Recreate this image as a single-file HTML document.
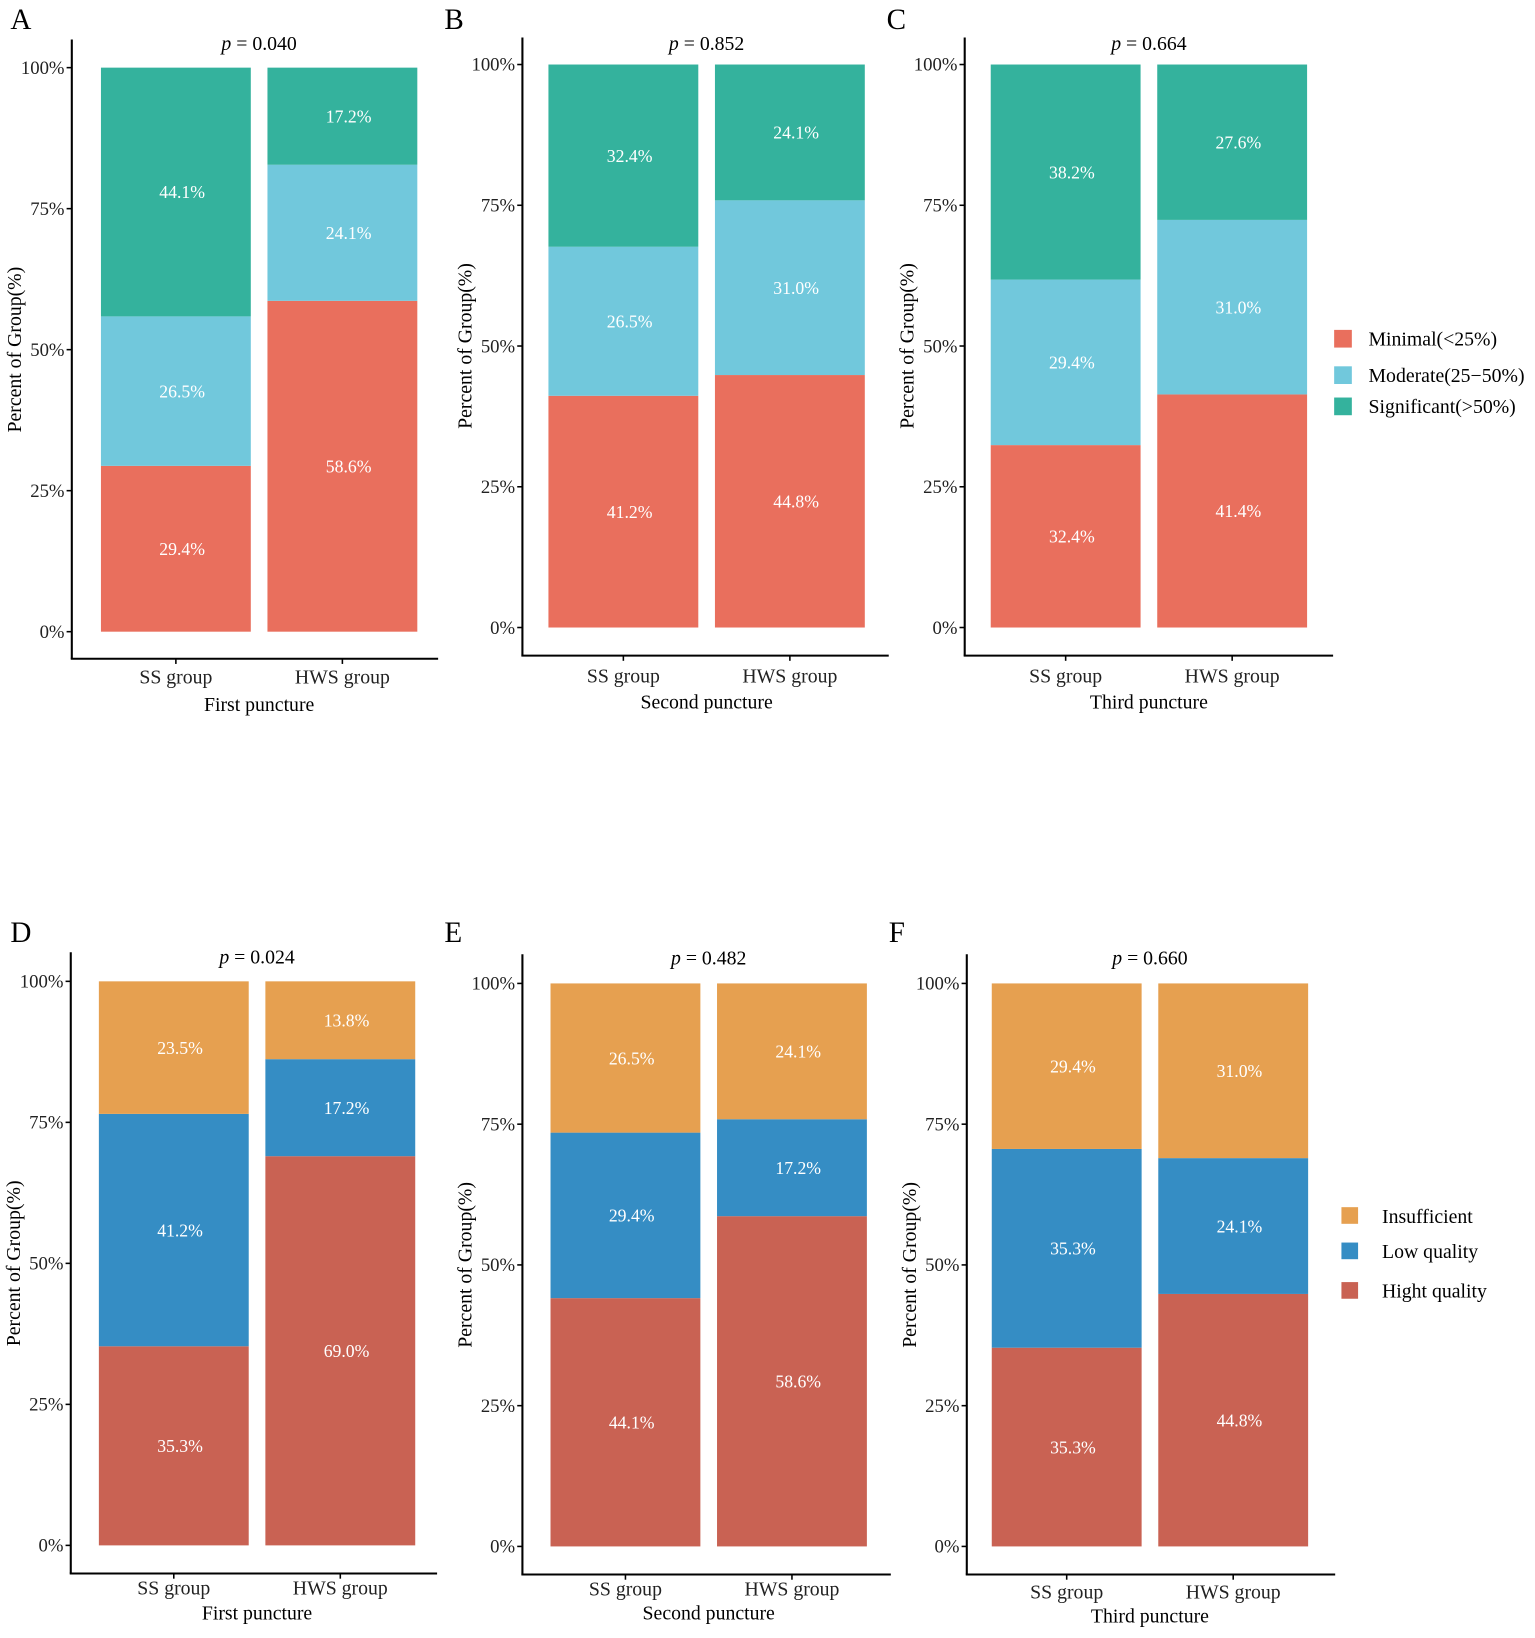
<!DOCTYPE html>
<html><head><meta charset="utf-8">
<style>
html,body{margin:0;padding:0;background:#fff;}
svg{display:block;font-family:"Liberation Serif",serif;}
</style></head>
<body>
<svg id="fig" width="1535" height="1638" viewBox="0 0 1475 1574" preserveAspectRatio="none"></svg>
<script>
const groups = ["SS group", "HWS group"];
const seriesTop = ["Minimal(<25%)", "Moderate(25\u221250%)", "Significant(>50%)"];
const seriesBottom = ["Hight quality", "Low quality", "Insufficient"];
const legendBottomOrder = ["Insufficient", "Low quality", "Hight quality"];
const tickLabels = ["0%", "25%", "50%", "75%", "100%"];
const tickValues = [0, 25, 50, 75, 100];
const aSS = [29.4, 26.5, 44.1], aHWS = [58.6, 24.1, 17.2];
const bSS = [41.2, 26.5, 32.4], bHWS = [44.8, 31.0, 24.1];
const cSS = [32.4, 29.4, 38.2], cHWS = [41.4, 31.0, 27.6];
const dSS = [35.3, 41.2, 23.5], dHWS = [69.0, 17.2, 13.8];
const eSS = [44.1, 29.4, 26.5], eHWS = [58.6, 17.2, 24.1];
const fSS = [35.3, 35.3, 29.4], fHWS = [44.8, 24.1, 31.0];
const pValues = ["0.040", "0.852", "0.664", "0.024", "0.482", "0.660"];
const xTitles = ["First puncture", "Second puncture", "Third puncture", "First puncture", "Second puncture", "Third puncture"];

const topColors = ["#E96F5D", "#71C8DC", "#34B29D"];
const botColors = ["#C96253", "#358DC4", "#E6A050"];
const NS = "http://www.w3.org/2000/svg";
const svg = document.getElementById("fig");
function mk(tag, attrs, parent, text) {
  const e = document.createElementNS(NS, tag);
  for (const k in attrs) e.setAttribute(k, attrs[k]);
  if (text !== undefined) e.textContent = text;
  (parent || svg).appendChild(e);
  return e;
}
const panels = [
  {letter:"A", ax:69, y100:65, y0:607, axTop:38, axBot:633, axRight:421, bars:[97,257], data:[aSS,aHWS], colors:topColors, names:seriesTop, pY:48, letY:28, xlY:657, xtY:683},
  {letter:"B", ax:502, y100:62, y0:603, axTop:36, axBot:630, axRight:854, bars:[527,687], data:[bSS,bHWS], colors:topColors, names:seriesTop, pY:48, letY:28, xlY:656, xtY:681},
  {letter:"C", ax:927, y100:62, y0:603, axTop:36, axBot:630, axRight:1281, bars:[952,1112], data:[cSS,cHWS], colors:topColors, names:seriesTop, pY:48, letY:28, xlY:656, xtY:681},
  {letter:"D", ax:68, y100:943, y0:1485, axTop:915, axBot:1512, axRight:420, bars:[95,255], data:[dSS,dHWS], colors:botColors, names:seriesBottom, pY:926, letY:905, xlY:1532, xtY:1556},
  {letter:"E", ax:502, y100:945, y0:1486, axTop:917, axBot:1513, axRight:856, bars:[529,689], data:[eSS,eHWS], colors:botColors, names:seriesBottom, pY:927, letY:905, xlY:1533, xtY:1556},
  {letter:"F", ax:929, y100:945, y0:1486, axTop:917, axBot:1513, axRight:1283, bars:[953,1113], data:[fSS,fHWS], colors:botColors, names:seriesBottom, pY:927, letY:905, xlY:1536, xtY:1559}
];
const barW = 144;
panels.forEach((p, i) => {
  const g = mk("g", {});
  
  
  const yScale = v => p.y0 - (p.y0 - p.y100) * v / 100;
  p.data.forEach((vals, gi) => {
    const total = vals.reduce((a, b) => a + b, 0);
    let cum = 0;
    vals.forEach((v, si) => {
      const pct0 = cum / total * 100, pct1 = (cum + v) / total * 100;
      cum += v;
      const yTop = yScale(pct1), yBot = yScale(pct0);
      const r = mk("rect", {x:p.bars[gi], y:yTop, width:barW, height:yBot - yTop, fill:p.colors[si]}, g);
      
      
      const t = mk("text", {x:p.bars[gi] + barW / 2 + 6, y:(yTop + yBot) / 2 + 6, "text-anchor":"middle", fill:"#fff", "font-size":"17"}, g, v.toFixed(1) + "%");
      
      
    });
  });
  const yl = mk("line", {x1:p.ax, y1:p.axTop, x2:p.ax, y2:p.axBot, stroke:"#000", "stroke-width":"2"}, g);
  
  
  const xl = mk("line", {x1:p.ax - 1, y1:p.axBot, x2:p.axRight, y2:p.axBot, stroke:"#000", "stroke-width":"2"}, g);
  
  
  tickValues.forEach((tv, ti) => {
    const y = yScale(tv);
    mk("line", {x1:p.ax - 5, y1:y, x2:p.ax, y2:y, stroke:"#000", "stroke-width":"1.5"}, g);
    const t = mk("text", {x:p.ax - 7, y:y + 6, "text-anchor":"end", "font-size":"18", fill:"#222"}, g, tickLabels[ti]);
    
    
  });
  groups.forEach((gn, gi) => {
    const cx = p.bars[gi] + barW / 2;
    mk("line", {x1:cx, y1:p.axBot, x2:cx, y2:p.axBot + 5, stroke:"#000", "stroke-width":"1.5"}, g);
    const t = mk("text", {x:cx, y:p.xlY, "text-anchor":"middle", "font-size":"19", fill:"#222"}, g, gn);
    
    
  });
  const midX = (p.bars[0] + p.bars[1] + barW) / 2;
  const xt = mk("text", {x:midX, y:p.xtY, "text-anchor":"middle", "font-size":"19", fill:"#000"}, g, xTitles[i]);
  
  
  const ytY = (p.y0 + p.y100) / 2;
  const yt = mk("text", {x:p.ax - 49, y:ytY, "text-anchor":"middle", "font-size":"19", fill:"#000", transform:`rotate(-90 ${p.ax - 49} ${ytY})`}, g, "Percent of Group(%)");
  
  
  const pt = mk("text", {x:midX, y:p.pY, "text-anchor":"middle", "font-size":"19", fill:"#000"}, g);
  
  
  mk("tspan", {"font-style":"italic"}, pt, "p");
  mk("tspan", {}, pt, " = " + pValues[i]);
  const lt = mk("text", {x:p.letter === "A" || p.letter === "D" ? 10 : p.ax - 75, y:p.letY, "font-size":"28", fill:"#000"}, g, p.letter);
  
  
});
const legTop = mk("g", {});


const legTopY = [326, 361, 391];
seriesTop.forEach((s, i) => {
  mk("rect", {x:1282, y:legTopY[i] - 9, width:17, height:17, fill:topColors[i]}, legTop);
  const t = mk("text", {x:1315, y:legTopY[i] + 6, "font-size":"19", fill:"#000"}, legTop, s);
  
  
});
const legBot = mk("g", {});


const legBotY = [1169, 1203, 1241];
const legBotColors = [botColors[2], botColors[1], botColors[0]];
legendBottomOrder.forEach((s, i) => {
  mk("rect", {x:1289, y:legBotY[i] - 9, width:16, height:16, fill:legBotColors[i]}, legBot);
  const t = mk("text", {x:1328, y:legBotY[i] + 6, "font-size":"19", fill:"#000"}, legBot, s);
  
  
});
</script>
</body></html>
